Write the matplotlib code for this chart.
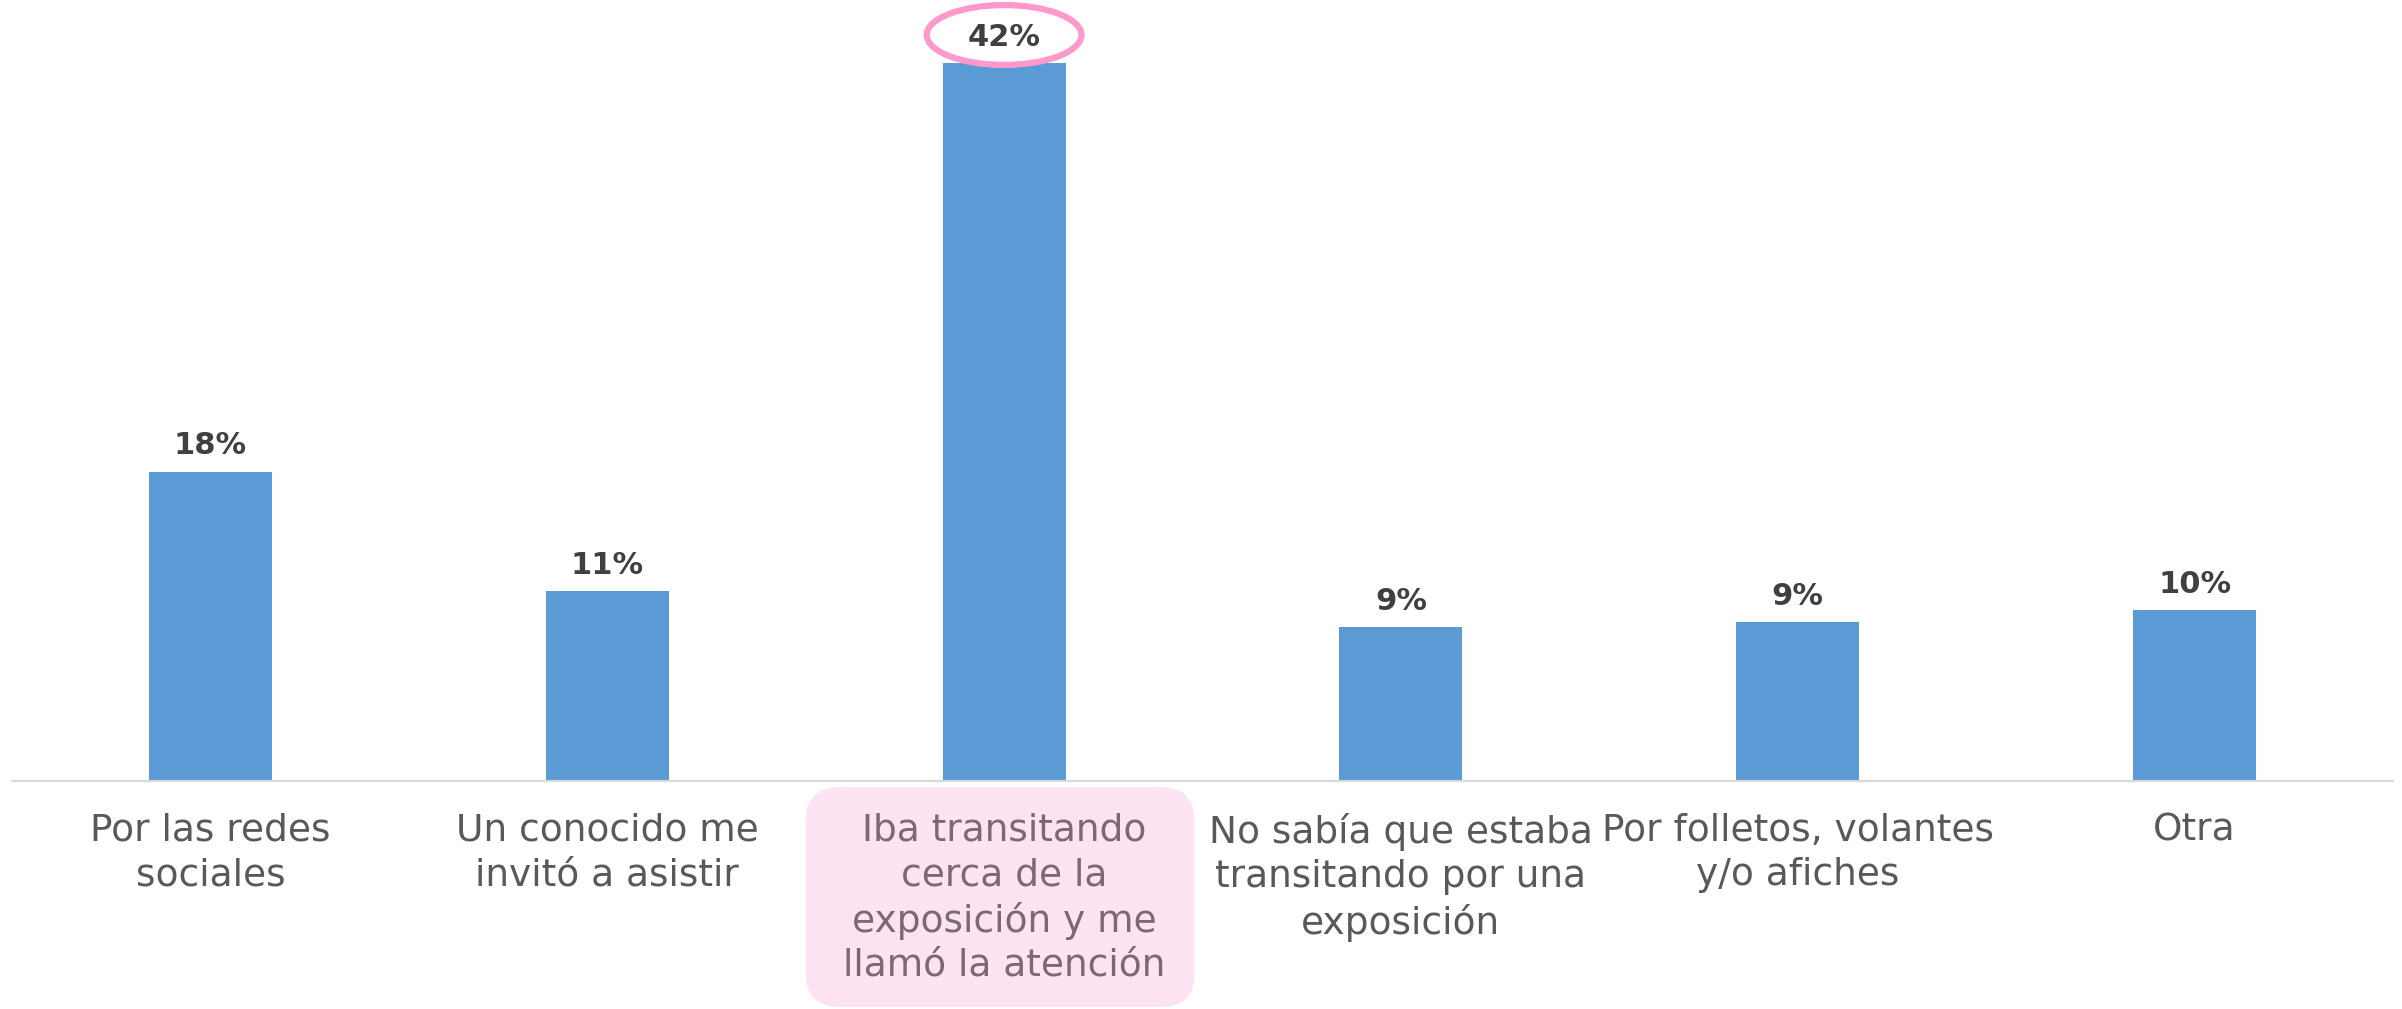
import matplotlib
matplotlib.use("Agg")
import matplotlib.pyplot as plt
from matplotlib.patches import Ellipse, FancyBboxPatch
from matplotlib.transforms import IdentityTransform

categories = [
    "Por las redes\nsociales",
    "Un conocido me\ninvitó a asistir",
    "Iba transitando\ncerca de la\nexposición y me\nllamó la atención",
    "No sabía que estaba\ntransitando por una\nexposición",
    "Por folletos, volantes\ny/o afiches",
    "Otra",
]
values = [18.1, 11.1, 42.0, 9.0, 9.3, 10.0]
value_labels = ["18%", "11%", "42%", "9%", "9%", "10%"]
highlight_index = 2

BAR = "#5b9bd5"
DPI = 100
W, H = 2402, 1009

fig = plt.figure(figsize=(W / DPI, H / DPI), dpi=DPI)
ax = fig.add_axes([12 / W, (H - 781) / H, (2393 - 12) / W, 781 / H])

x = list(range(len(categories)))
ax.bar(x, values, width=0.31, color=BAR, zorder=2)
ax.set_xlim(-0.5, len(categories) - 0.5)
ax.set_ylim(0, 781 / 17.095)

for s in ["top", "right", "left"]:
    ax.spines[s].set_visible(False)
ax.spines["bottom"].set_color("#d9d9d9")
ax.spines["bottom"].set_linewidth(1.6)
ax.set_yticks([])
ax.set_xticks(x)
ax.set_xticklabels(categories, fontsize=27, color="#595959", linespacing=1.29)
ax.tick_params(axis="x", length=0, pad=23)
for i, t in enumerate(ax.get_xticklabels()):
    if i == highlight_index:
        t.set_color("#7d6875")

for xi, v, lab in zip(x, values, value_labels):
    ax.annotate(lab, (xi, v), xytext=(0, 12.5), textcoords="offset points",
                ha="center", va="baseline", fontsize=22, fontweight="bold",
                color="#404040", zorder=5)

# highlight ellipse around top value
ell = Ellipse((highlight_index, values[highlight_index] + 1.64), 0.39, 3.5,
              facecolor="none", edgecolor="#ff99cc", linewidth=4.5,
              clip_on=False, zorder=4)
ax.add_patch(ell)

# highlight box behind label
fig.canvas.draw()
cx = ax.transData.transform((highlight_index, 0))[0]
bw, bh = 389, 220
box = FancyBboxPatch((cx - bw / 2 - 4, H - 787 - bh), bw, bh,
                     boxstyle="round,pad=0,rounding_size=34",
                     transform=IdentityTransform(), facecolor="#fee4f2",
                     edgecolor="none", zorder=0, clip_on=False)
ax.add_artist(box)

fig.savefig("out.png", dpi=DPI, facecolor="white")
